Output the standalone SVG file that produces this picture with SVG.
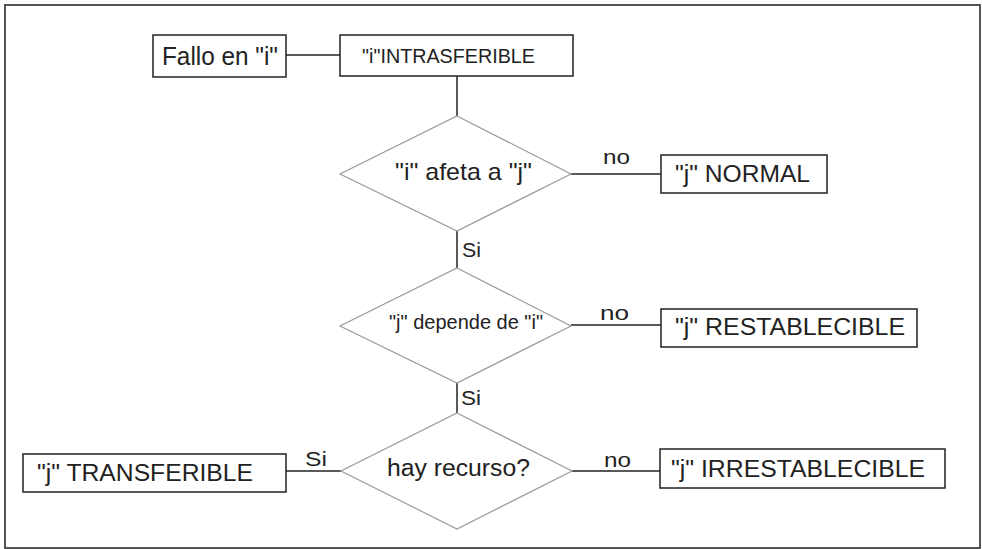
<svg xmlns="http://www.w3.org/2000/svg" width="982" height="549" viewBox="0 0 982 549">
<style>
.box{fill:#fff;stroke:#222;stroke-width:1.5}
.dia{fill:#fff;stroke:#9a9a9a;stroke-width:1.2}
.con{stroke:#222;stroke-width:1.5;fill:none}
.t{font-family:"Liberation Sans",Arial,sans-serif;fill:#222}
.frame{fill:#fff;stroke:#555;stroke-width:2}
</style>
<rect class="frame" x="5" y="5" width="975" height="543"/>
<g id="connectors">
<line class="con" x1="286" y1="55" x2="340" y2="55"/>
<line class="con" x1="457" y1="76" x2="457" y2="116"/>
<line class="con" x1="571" y1="174" x2="661" y2="174"/>
<line class="con" x1="457" y1="231" x2="457" y2="268"/>
<line class="con" x1="571" y1="325" x2="661" y2="325"/>
<line class="con" x1="457" y1="383" x2="457" y2="413"/>
<line class="con" x1="286" y1="471" x2="341" y2="471"/>
<line class="con" x1="572" y1="471" x2="660" y2="471"/>
<text class="t" x="603" y="164" font-size="21" textLength="27" lengthAdjust="spacingAndGlyphs">no</text>
<text class="t" x="462" y="257" font-size="21" textLength="19" lengthAdjust="spacingAndGlyphs">Si</text>
<text class="t" x="600" y="320" font-size="21" textLength="29" lengthAdjust="spacingAndGlyphs">no</text>
<text class="t" x="461" y="405" font-size="21" textLength="20" lengthAdjust="spacingAndGlyphs">Si</text>
<text class="t" x="305" y="466" font-size="21" textLength="22" lengthAdjust="spacingAndGlyphs">Si</text>
<text class="t" x="604" y="467" font-size="21" textLength="27" lengthAdjust="spacingAndGlyphs">no</text>
</g>
<g id="fallo">
<rect class="box" x="153" y="35" width="133" height="42"/>
<text class="t" x="162" y="65" font-size="26" textLength="116" lengthAdjust="spacingAndGlyphs">Fallo en "i"</text>
</g>
<g id="intrasferible">
<rect class="box" x="340" y="35" width="233" height="41"/>
<text class="t" x="362" y="63" font-size="21" textLength="173" lengthAdjust="spacingAndGlyphs">"i"INTRASFERIBLE</text>
</g>
<g id="d1">
<polygon class="dia" points="457,116 571,174 457,231 340,174"/>
<text class="t" x="395" y="180" font-size="24" textLength="137" lengthAdjust="spacingAndGlyphs">"i" afeta a "j"</text>
</g>
<g id="normal">
<rect class="box" x="661" y="155" width="166" height="38"/>
<text class="t" x="675" y="182" font-size="23" textLength="135" lengthAdjust="spacingAndGlyphs">"j" NORMAL</text>
</g>
<g id="d2">
<polygon class="dia" points="457,268 571,326 457,383 340,326"/>
<text class="t" x="389" y="329" font-size="20" textLength="154" lengthAdjust="spacingAndGlyphs">"j" depende de "i"</text>
</g>
<g id="restablecible">
<rect class="box" x="661" y="309" width="256" height="38"/>
<text class="t" x="675" y="335" font-size="23" textLength="230" lengthAdjust="spacingAndGlyphs">"j" RESTABLECIBLE</text>
</g>
<g id="d3">
<polygon class="dia" points="457,413 572,471 457,529 341,471"/>
<text class="t" x="387" y="476" font-size="23" textLength="143" lengthAdjust="spacingAndGlyphs">hay recurso?</text>
</g>
<g id="transferible">
<rect class="box" x="23" y="454" width="263" height="38"/>
<text class="t" x="37" y="481" font-size="23" textLength="216" lengthAdjust="spacingAndGlyphs">"j" TRANSFERIBLE</text>
</g>
<g id="irrestablecible">
<rect class="box" x="660" y="449" width="285" height="39"/>
<text class="t" x="671" y="477" font-size="23" textLength="254" lengthAdjust="spacingAndGlyphs">"j" IRRESTABLECIBLE</text>
</g>
</svg>
